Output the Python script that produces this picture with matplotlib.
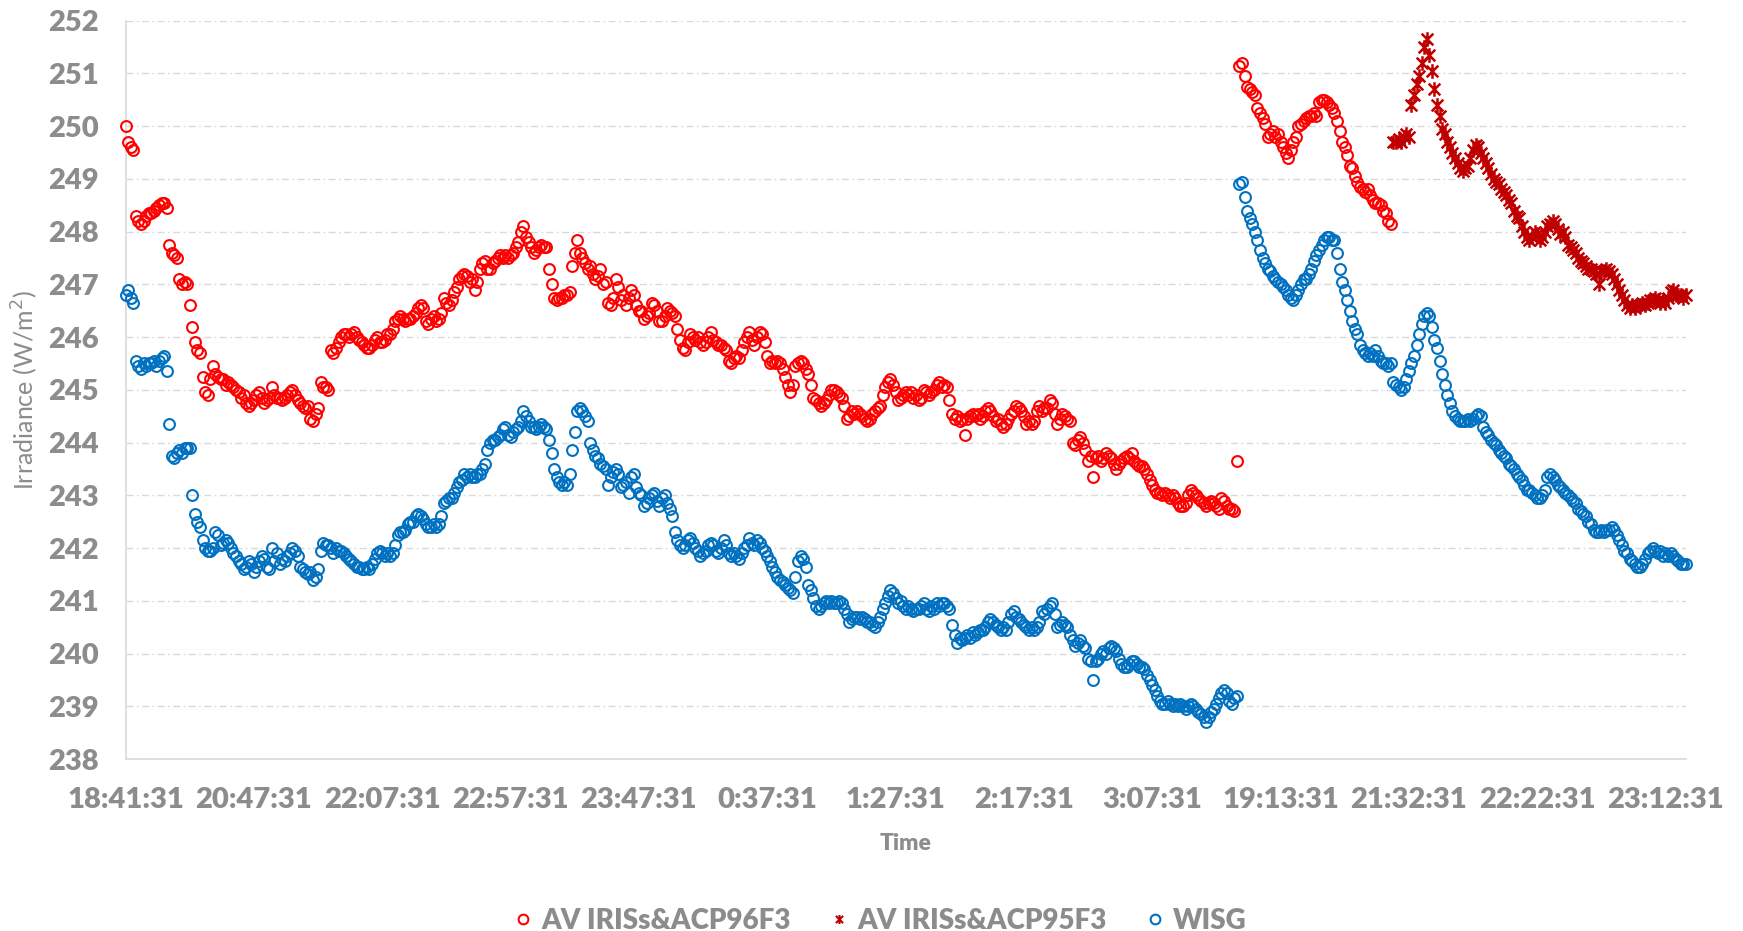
import numpy as np
import matplotlib
matplotlib.use("Agg")
import matplotlib.pyplot as plt
from matplotlib.path import Path
from matplotlib.lines import Line2D

plt.rcParams['font.family'] = ['Lato', 'DejaVu Sans']

# ---------------- data ----------------
n_categories = 609
tick_labels = ["18:41:31", "20:47:31", "22:07:31", "22:57:31", "23:47:31",
               "0:37:31", "1:27:31", "2:17:31", "3:07:31", "19:13:31",
               "21:32:31", "22:22:31", "23:12:31"]
label_interval = 50

series_names = ["AV IRISs&ACP96F3", "AV IRISs&ACP95F3", "WISG"]

# AV IRISs&ACP96F3 : categories 0..493
red96 = [
    250.0, 249.7, 249.6, 249.55, 248.3, 248.2, 248.15, 248.2, 248.3, 248.35,
    248.35, 248.4, 248.45, 248.5, 248.55, 248.55, 248.45, 247.75, 247.6, 247.55,
    247.5, 247.1, 247.0, 247.05, 247.0, 246.6, 246.2, 245.9, 245.75, 245.7,
    245.25, 244.95, 244.9, 245.2, 245.45, 245.3, 245.25, 245.2, 245.2, 245.1,
    245.15, 245.1, 245.05, 245.0, 244.95, 244.85, 244.9, 244.75, 244.7, 244.75,
    244.8, 244.9, 244.95, 244.85, 244.75, 244.8, 244.85, 245.05, 244.9, 244.85,
    244.85, 244.8, 244.85, 244.9, 244.95, 245.0, 244.9, 244.8, 244.75, 244.7,
    244.65, 244.7, 244.45, 244.4, 244.55, 244.65, 245.15, 245.05, 245.05, 245.0,
    245.75, 245.7, 245.8, 245.9, 246.0, 246.05, 246.05, 246.0, 246.05, 246.1,
    246.0, 245.95, 245.9, 245.85, 245.8, 245.8, 245.85, 245.95, 246.0, 245.9,
    245.9, 245.95, 246.05, 246.05, 246.15, 246.3, 246.35, 246.4, 246.35, 246.3,
    246.35, 246.35, 246.4, 246.45, 246.55, 246.6, 246.55, 246.3, 246.25, 246.35,
    246.4, 246.3, 246.35, 246.45, 246.75, 246.65, 246.6, 246.7, 246.85, 246.95,
    247.1, 247.15, 247.2, 247.15, 247.05, 247.1, 246.9, 247.05, 247.3, 247.4,
    247.45, 247.3, 247.3, 247.4, 247.45, 247.5, 247.55, 247.5, 247.55, 247.5,
    247.55, 247.6, 247.7, 247.8, 248.0, 248.1, 247.9, 247.8, 247.7, 247.6,
    247.65, 247.7, 247.75, 247.7, 247.7, 247.3, 247.0, 246.75, 246.7, 246.75,
    246.75, 246.8, 246.8, 246.85, 247.35, 247.6, 247.85, 247.6, 247.5, 247.4,
    247.3, 247.35, 247.2, 247.1, 247.15, 247.3, 247.0, 247.05, 246.65, 246.6,
    246.75, 247.1, 246.95, 246.7, 246.8, 246.6, 246.75, 246.9, 246.8, 246.6,
    246.5, 246.5, 246.35, 246.4, 246.45, 246.65, 246.6, 246.5, 246.3, 246.3,
    246.4, 246.55, 246.5, 246.45, 246.4, 246.15, 245.95, 245.8, 245.75, 245.9,
    246.05, 246.0, 245.95, 246.0, 245.9, 245.85, 245.9, 246.0, 246.1, 245.95,
    245.9, 245.85, 245.85, 245.8, 245.75, 245.55, 245.5, 245.6, 245.65, 245.6,
    245.75, 245.9, 246.0, 246.1, 245.95, 245.85, 246.0, 246.1, 246.05, 245.9,
    245.65, 245.5, 245.55, 245.5, 245.55, 245.5, 245.4, 245.25, 245.1, 244.95,
    245.1, 245.45, 245.5, 245.55, 245.5, 245.4, 245.3, 245.1, 244.85, 244.8,
    244.75, 244.7, 244.75, 244.8, 244.9, 245.0, 245.0, 244.95, 244.9, 244.85,
    244.7, 244.45, 244.5, 244.6, 244.55, 244.6, 244.55, 244.5, 244.45, 244.4,
    244.45, 244.55, 244.6, 244.65, 244.7, 244.9, 245.05, 245.15, 245.2, 245.1,
    244.95, 244.8, 244.85, 244.9, 244.95, 244.9, 244.95, 244.85, 244.9, 244.8,
    244.85, 245.0, 244.95, 244.9, 244.95, 245.0, 245.1, 245.15, 245.05, 245.1,
    245.05, 244.8, 244.55, 244.45, 244.5, 244.4, 244.45, 244.15, 244.45, 244.5,
    244.55, 244.5, 244.55, 244.45, 244.5, 244.6, 244.65, 244.6, 244.5, 244.4,
    244.45, 244.35, 244.3, 244.35, 244.45, 244.55, 244.6, 244.7, 244.65, 244.6,
    244.5, 244.35, 244.4, 244.35, 244.4, 244.6, 244.7, 244.6, 244.65, 244.65,
    244.8, 244.75, 244.55, 244.35, 244.45, 244.55, 244.5, 244.45, 244.4, 244.0,
    243.95, 244.05, 244.1, 244.0, 243.85, 243.65, 243.75, 243.35, 243.7, 243.75,
    243.65, 243.7, 243.8, 243.75, 243.7, 243.6, 243.5, 243.6, 243.65, 243.7,
    243.75, 243.7, 243.8, 243.65, 243.6, 243.55, 243.55, 243.5, 243.4, 243.3,
    243.2, 243.1, 243.05, 243.05, 243.0, 243.05, 243.0, 242.95, 243.0, 242.95,
    242.85, 242.8, 242.8, 242.85, 243.0, 243.1, 243.05, 243.0, 242.95, 242.9,
    242.85, 242.8, 242.85, 242.9, 242.85, 242.8, 242.75, 242.95, 242.9, 242.8,
    242.75, 242.75, 242.7, 243.65, 251.15, 251.2, 250.95, 250.75, 250.7, 250.65,
    250.6, 250.35, 250.25, 250.15, 250.05, 249.8, 249.85, 249.9, 249.8, 249.85,
    249.7, 249.6, 249.5, 249.4, 249.55, 249.7, 249.8, 250.0, 250.05, 250.1,
    250.15, 250.2, 250.2, 250.25, 250.2, 250.45, 250.5, 250.5, 250.45, 250.4,
    250.35, 250.25, 250.1, 249.9, 249.7, 249.6, 249.45, 249.25, 249.2, 249.05,
    248.95, 248.85, 248.8, 248.75, 248.8, 248.7, 248.6, 248.55, 248.55, 248.5,
    248.4, 248.35, 248.2, 248.15,
]

# AV IRISs&ACP95F3 : categories 494..608
cross95_start = 494
cross95 = [
    249.7, 249.7, 249.75, 249.7, 249.8, 249.85,
    249.8, 250.4, 250.6, 250.8, 250.95, 251.2, 251.5, 251.65, 251.35, 251.05,
    250.7, 250.4, 250.2, 249.95, 249.85, 249.7, 249.6, 249.5, 249.4, 249.3,
    249.2, 249.15, 249.2, 249.25, 249.4, 249.55, 249.65, 249.6, 249.5, 249.4,
    249.3, 249.2, 249.1, 249.0, 248.95, 248.9, 248.8, 248.75, 248.7, 248.6,
    248.55, 248.4, 248.3, 248.25, 248.1, 248.0, 247.9, 247.85, 247.9, 248.0,
    247.95, 247.85, 247.9, 248.0, 248.1, 248.15, 248.2, 248.15, 248.05, 247.95,
    248.0, 247.9, 247.75, 247.7, 247.65, 247.6, 247.5, 247.45, 247.4, 247.35,
    247.3, 247.3, 247.25, 247.2, 247.0, 247.25, 247.25, 247.3, 247.25, 247.2,
    247.1, 247.0, 246.9, 246.8, 246.7, 246.6, 246.55, 246.6, 246.55, 246.6,
    246.6, 246.65, 246.6, 246.65, 246.7, 246.7, 246.75, 246.7, 246.65, 246.7,
    246.65, 246.75, 246.85, 246.9, 246.8, 246.8, 246.8, 246.75, 246.8,
]

# WISG : categories 0..608
wisg = [
    246.8, 246.9, 246.75, 246.65, 245.55, 245.45, 245.4, 245.5, 245.45, 245.5,
    245.5, 245.55, 245.45, 245.55, 245.6, 245.65, 245.35, 244.35, 243.75, 243.7,
    243.8, 243.85, 243.8, 243.9, 243.9, 243.9, 243.0, 242.65, 242.5, 242.4,
    242.15, 242.0, 241.95, 241.95, 242.0, 242.3, 242.25, 242.05, 242.1, 242.15,
    242.1, 242.0, 241.9, 241.85, 241.75, 241.7, 241.6, 241.65, 241.75, 241.7,
    241.55, 241.65, 241.75, 241.85, 241.8, 241.65, 241.6, 242.0, 241.75, 241.9,
    241.7, 241.8, 241.75, 241.85, 241.9, 242.0, 241.95, 241.85, 241.65, 241.6,
    241.55, 241.5, 241.55, 241.4, 241.45, 241.6, 241.95, 242.1, 242.05, 242.05,
    242.0, 241.9, 242.0, 241.95, 241.95, 241.9, 241.85, 241.8, 241.75, 241.7,
    241.65, 241.65, 241.6, 241.6, 241.65, 241.6, 241.7, 241.8, 241.9, 241.95,
    241.9, 241.85, 241.9, 241.85, 241.9, 242.05, 242.25, 242.3, 242.3, 242.35,
    242.45, 242.5, 242.5, 242.6, 242.65, 242.6, 242.55, 242.45, 242.4, 242.4,
    242.45, 242.4, 242.45, 242.6, 242.85, 242.9, 242.95, 242.95, 243.05, 243.15,
    243.25, 243.3, 243.4, 243.35, 243.4, 243.35, 243.35, 243.4, 243.4, 243.5,
    243.6, 243.85, 244.0, 244.05, 244.05, 244.1, 244.15, 244.25, 244.3, 244.15,
    244.1, 244.2, 244.25, 244.3, 244.4, 244.6, 244.5, 244.4, 244.3, 244.3,
    244.25, 244.3, 244.35, 244.3, 244.25, 244.05, 243.8, 243.5, 243.35, 243.25,
    243.2, 243.25, 243.2, 243.4, 243.85, 244.2, 244.6, 244.65, 244.6, 244.5,
    244.4, 244.0, 243.85, 243.75, 243.7, 243.6, 243.55, 243.5, 243.2, 243.35,
    243.45, 243.5, 243.4, 243.15, 243.2, 243.25, 243.05, 243.35, 243.4, 243.15,
    243.05, 243.0, 242.8, 242.85, 242.95, 243.0, 243.05, 242.9, 242.8, 242.95,
    243.0, 242.85, 242.75, 242.6, 242.3, 242.15, 242.05, 242.0, 242.05, 242.15,
    242.2, 242.1, 242.0, 241.95, 241.85, 241.9, 241.95, 242.05, 242.1, 242.05,
    241.95, 241.9, 242.0, 242.15, 242.05, 241.9, 241.85, 241.9, 241.85, 241.8,
    241.9, 242.0, 242.05, 242.2, 242.1, 242.05, 242.15, 242.1, 242.0, 241.95,
    241.85, 241.75, 241.65, 241.55, 241.45, 241.4, 241.35, 241.3, 241.25, 241.2,
    241.15, 241.45, 241.75, 241.85, 241.8, 241.65, 241.3, 241.2, 241.05, 240.9,
    240.85, 240.9, 240.95, 241.0, 240.95, 241.0, 240.95, 240.95, 241.0, 240.95,
    240.85, 240.75, 240.6, 240.65, 240.7, 240.7, 240.65, 240.7, 240.65, 240.6,
    240.6, 240.55, 240.5, 240.6, 240.7, 240.85, 240.95, 241.1, 241.2, 241.15,
    241.05, 240.95, 241.0, 240.9, 240.85, 240.9, 240.85, 240.8, 240.85, 240.85,
    240.9, 240.95, 240.85, 240.8, 240.9, 240.85, 240.95, 240.9, 240.95, 240.95,
    240.9, 240.85, 240.55, 240.35, 240.2, 240.3, 240.25, 240.3, 240.35, 240.3,
    240.4, 240.35, 240.4, 240.45, 240.45, 240.5, 240.6, 240.65, 240.6, 240.55,
    240.5, 240.45, 240.5, 240.45, 240.6, 240.75, 240.8, 240.7, 240.65, 240.6,
    240.55, 240.5, 240.45, 240.5, 240.45, 240.5, 240.6, 240.8, 240.75, 240.85,
    240.9, 240.95, 240.75, 240.5, 240.55, 240.6, 240.55, 240.5, 240.35, 240.25,
    240.15, 240.2, 240.25, 240.15, 240.1, 239.9, 239.85, 239.5, 239.85, 239.9,
    240.0, 240.05, 240.0, 240.1, 240.15, 240.1, 240.05, 239.9, 239.8, 239.75,
    239.75, 239.8, 239.85, 239.85, 239.8, 239.75, 239.75, 239.7, 239.6, 239.5,
    239.4, 239.3, 239.2, 239.1, 239.05, 239.05, 239.1, 239.05, 239.0, 239.05,
    239.0, 239.05, 239.0, 238.95, 239.0, 239.05, 239.0, 238.95, 238.9, 238.85,
    238.8, 238.7, 238.8, 238.9, 238.95, 239.05, 239.15, 239.25, 239.3, 239.25,
    239.1, 239.05, 239.15, 239.2, 248.9, 248.95, 248.65, 248.4, 248.25, 248.15,
    248.0, 247.85, 247.65, 247.5, 247.4, 247.3, 247.25, 247.15, 247.1, 247.05,
    247.0, 246.95, 246.9, 246.8, 246.75, 246.7, 246.8, 246.9, 247.0, 247.1,
    247.1, 247.2, 247.3, 247.45, 247.55, 247.65, 247.75, 247.85, 247.9, 247.9,
    247.85, 247.85, 247.6, 247.3, 247.05, 246.9, 246.7, 246.5, 246.3, 246.15,
    246.05, 245.85, 245.75, 245.7, 245.65, 245.7, 245.65, 245.75, 245.65, 245.55,
    245.5, 245.5, 245.45, 245.5, 245.15, 245.1, 245.05, 245.0, 245.05, 245.2,
    245.35, 245.5, 245.65, 245.85, 246.05, 246.25, 246.4, 246.45, 246.4, 246.2,
    245.95, 245.8, 245.55, 245.3, 245.1, 244.9, 244.75, 244.6, 244.5, 244.45,
    244.4, 244.4, 244.4, 244.45, 244.4, 244.45, 244.5, 244.55, 244.5, 244.3,
    244.2, 244.15, 244.05, 244.0, 243.95, 243.85, 243.8, 243.75, 243.7, 243.6,
    243.55, 243.5, 243.4, 243.35, 243.3, 243.2, 243.1, 243.1, 243.05, 243.0,
    242.95, 242.95, 243.0, 243.1, 243.35, 243.4, 243.35, 243.3, 243.2, 243.15,
    243.1, 243.05, 243.0, 242.95, 242.9, 242.85, 242.75, 242.7, 242.65, 242.6,
    242.5, 242.45, 242.35, 242.3, 242.3, 242.35, 242.3, 242.35, 242.35, 242.4,
    242.35, 242.25, 242.15, 242.05, 241.95, 241.9, 241.8, 241.75, 241.7, 241.65,
    241.65, 241.7, 241.8, 241.9, 241.95, 242.0, 241.95, 241.9, 241.95, 241.85,
    241.9, 241.85, 241.9, 241.85, 241.8, 241.75, 241.7, 241.7, 241.7,
]

# ---------------- style ----------------
RED = "#FF0000"
DARKRED = "#C00000"
BLUE = "#0070C0"
TXT = "#8C8C8C"
GRID = "#D9D9D9"

W, H = 1743, 931
fig = plt.figure(figsize=(W / 100, H / 100), dpi=100)
ax = fig.add_axes([125.6 / W, 1 - 759 / H, (1686 - 125.6) / W, (759 - 20.7) / H])

star = Path([(-1, -1), (1, 1), (-1, 1), (1, -1), (0, -1.25), (0, 1.25)],
            [Path.MOVETO, Path.LINETO, Path.MOVETO, Path.LINETO, Path.MOVETO, Path.LINETO])

x_red = np.arange(len(red96))
x_cross = np.arange(cross95_start, cross95_start + len(cross95))
x_wisg = np.arange(len(wisg))

ms, mew = 7.8, 1.5
ax.plot(x_red, red96, linestyle="none", marker="o", markersize=ms,
        markerfacecolor="none", markeredgecolor=RED, markeredgewidth=mew,
        clip_on=False, zorder=3)
ax.plot(x_cross, cross95, linestyle="none", marker=star, markersize=10.5,
        markerfacecolor="none", markeredgecolor=DARKRED, markeredgewidth=1.8,
        clip_on=False, zorder=3)
ax.plot(x_wisg, wisg, linestyle="none", marker="o", markersize=ms,
        markerfacecolor="none", markeredgecolor=BLUE, markeredgewidth=mew,
        clip_on=False, zorder=3)

ax.set_xlim(0, n_categories - 1)
ax.set_ylim(238, 252)
ax.set_yticks(np.arange(238, 253, 1))
ax.set_xticks(np.arange(0, n_categories, label_interval))
ax.set_xticklabels(tick_labels)

ax.yaxis.grid(True, color=GRID, linewidth=1.0, linestyle=(0, (5, 2.5, 1.2, 2.5)))
ax.xaxis.grid(False)
ax.set_axisbelow(True)

for s in ["top", "right"]:
    ax.spines[s].set_visible(False)
for s in ["left", "bottom"]:
    ax.spines[s].set_color(GRID)
    ax.spines[s].set_linewidth(1.2)

ax.tick_params(axis="both", length=0, colors=TXT, labelsize=21)
ax.tick_params(axis="y", pad=19)
ax.tick_params(axis="x", pad=20)
for lab in ax.get_xticklabels() + ax.get_yticklabels():
    lab.set_fontweight("heavy")

fig.text(906 / W, 1 - 843 / H, "Time", ha="center", va="center",
         fontsize=16.5, fontweight="heavy", color=TXT)
fig.text(24.5 / W, 1 - 390 / H, "Irradiance (W/m$^2$)", ha="center", va="center",
         rotation=90, fontsize=18, color=TXT)

handles = [
    Line2D([], [], linestyle="none", marker="o", markersize=7, markerfacecolor="none",
           markeredgecolor=RED, markeredgewidth=1.5),
    Line2D([], [], linestyle="none", marker=star, markersize=6.5, markerfacecolor="none",
           markeredgecolor=DARKRED, markeredgewidth=1.5),
    Line2D([], [], linestyle="none", marker="o", markersize=7, markerfacecolor="none",
           markeredgecolor=BLUE, markeredgewidth=1.5),
]
leg = fig.legend(handles, series_names, loc="center", bbox_to_anchor=(881 / W, 1 - 921 / H),
                 ncol=3, frameon=False, prop=dict(weight="heavy", size=20),
                 labelcolor=TXT, handlelength=0.6, handletextpad=0.35,
                 columnspacing=1.45, borderpad=0.1)

fig.savefig("out.png", dpi=100)
